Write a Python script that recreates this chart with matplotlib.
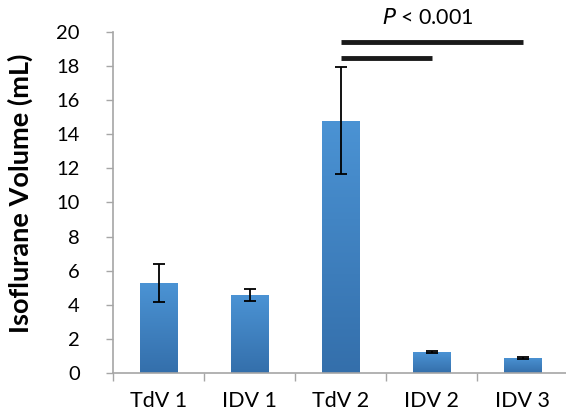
import numpy as np
import matplotlib
matplotlib.use("Agg")
import matplotlib.pyplot as plt
from matplotlib.colors import LinearSegmentedColormap

plt.rcParams['font.family'] = ['Lato', 'DejaVu Sans']

# data
groups = ["TdV 1", "IDV 1", "TdV 2", "IDV 2", "IDV 3"]
volume = [5.26, 4.56, 14.8, 1.22, 0.88]
volume_err = [1.11, 0.35, 3.15, 0.05, 0.03]
# significance bars: (from group, to group, height)
sig_pairs = [(2, 4, 19.4), (2, 3, 18.5)]
sig_text = "$P$ < 0.001"

fig = plt.figure(figsize=(5.66, 4.15), dpi=100)
ax = fig.add_axes([0.1996, 0.1012, 0.8049, 0.8217])

x = np.arange(len(groups))
bars = ax.bar(x, volume, width=0.41, color="#4285c8", zorder=2)

# vertical gradient inside each bar
cmap = LinearSegmentedColormap.from_list("blu", ["#4b93d4", "#346fab"])
grad = np.linspace(0, 1, 256).reshape(-1, 1)
for b in bars:
    x0, w, h = b.get_x(), b.get_width(), b.get_height()
    im = ax.imshow(grad, cmap=cmap, aspect="auto", origin="upper",
                   extent=(x0, x0 + w, 0, h), zorder=2.1)
    im.set_clip_path(b)

ax.errorbar(x, volume, yerr=volume_err, fmt="none", ecolor="black",
            elinewidth=1.3, capsize=4, capthick=1.3, zorder=3)

for i, j, h in sig_pairs:
    ax.plot([x[i], x[j]], [h, h], color="#1a1a1a", lw=3.5,
            solid_capstyle="butt", clip_on=False, zorder=3)
ax.text((x[2] + x[4]) / 2 - 0.04, 20.45, sig_text, ha="center",
        va="baseline", fontsize=15.5)

ax.set_xlim(-0.5, len(groups) - 0.5)
ax.set_ylim(0, 20)
ax.set_yticks(np.arange(0, 21, 2))
ax.set_xticks(x)
ax.set_xticklabels(groups, fontsize=15.5)
ax.set_xticks(np.arange(len(groups)) - 0.5, minor=True)
ax.tick_params(axis="x", which="major", length=0, pad=13)
ax.tick_params(axis="x", which="minor", length=6, color="#a6a6a6", width=1)
ax.tick_params(axis="y", length=5, color="#a6a6a6", width=1, labelsize=14.5,
               pad=19)
ax.set_ylabel("Isoflurane Volume (mL)", fontsize=19.5, fontweight="bold")
ax.yaxis.set_label_coords(-0.1756, 0.528)

for s in ["top", "right"]:
    ax.spines[s].set_visible(False)
for s in ["left", "bottom"]:
    ax.spines[s].set_color("#a6a6a6")
    ax.spines[s].set_linewidth(1.2)

fig.savefig("out.png", dpi=100)
